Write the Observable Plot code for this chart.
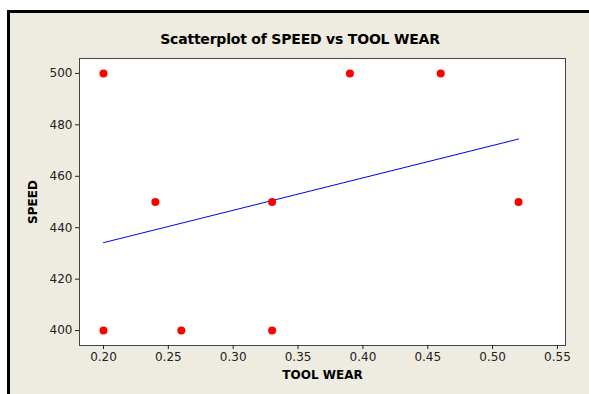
<!DOCTYPE html>
<html>
<head>
<meta charset="utf-8">
<script src="https://cdn.jsdelivr.net/npm/d3@7"></script>
<script src="https://cdn.jsdelivr.net/npm/@observablehq/plot@0.6"></script>
<style>
  html, body { margin: 0; padding: 0; background: #ffffff; }
  #wrap { position: relative; width: 589px; height: 394px; overflow: hidden; }
  #panel { position: absolute; left: 7px; top: 10px; right: -10px; bottom: -10px;
           background: #EEEBE0; border-left: 3px solid #000; border-top: 3px solid #000; }
  #title { position: absolute; left: 0; width: 600px; top: 31px; text-align: center;
           font: bold 14px "DejaVu Sans", sans-serif; color: #000; letter-spacing: -0.2px; }
  #chart { position: absolute; left: 0; top: 0; }
</style>
</head>
<body>
<div id="wrap">
  <div id="panel"></div>
  <div id="title">Scatterplot of SPEED vs TOOL WEAR</div>
  <div id="chart"></div>
</div>
<script>
const toolWear = [0.20, 0.20, 0.24, 0.26, 0.33, 0.33, 0.39, 0.46, 0.52];
const speed    = [500, 400, 450, 400, 450, 400, 500, 500, 450];
const xTicks = [0.20, 0.25, 0.30, 0.35, 0.40, 0.45, 0.50, 0.55];
const yTicks = [400, 420, 440, 460, 480, 500];

const data = toolWear.map((x, i) => ({x, y: speed[i]}));

const chart = Plot.plot({
  width: 589,
  height: 394,
  marginLeft: 79,
  marginRight: 24,
  marginTop: 58,
  marginBottom: 49,
  style: {background: "transparent", fontFamily: "DejaVu Sans, sans-serif", fontSize: "12px", color: "#222"},
  x: {domain: [0.1815, 0.5562], ticks: xTicks, tickFormat: d3.format(".2f"), label: "TOOL WEAR",
      labelAnchor: "center", labelArrow: "none"},
  y: {domain: [394.2, 505.8], ticks: yTicks, label: "SPEED", labelAnchor: "center", labelArrow: "none"},
  marks: [
    Plot.frame({fill: "white", stroke: "#444"}),
    Plot.axisX({ticks: xTicks, tickFormat: d3.format(".2f"), tickSize: 4, tickPadding: 3, label: null}),
    Plot.axisY({ticks: yTicks, tickSize: 4, tickPadding: 3, label: null}),
    Plot.text(["TOOL WEAR"], {frameAnchor: "bottom", dy: 33, fontWeight: "bold", fontSize: 12, fill: "#000"}),
    Plot.text(["SPEED"], {frameAnchor: "left", dx: -46, rotate: -90, textAnchor: "middle", fontWeight: "bold", fontSize: 12, fill: "#000"}),
    Plot.linearRegressionY(data, {x: "x", y: "y", ci: 0, stroke: "#0000ff", strokeWidth: 1}),
    Plot.dot(data, {x: "x", y: "y", r: 4, fill: "#ff0000", stroke: "none"})
  ]
});
document.getElementById("chart").appendChild(chart);
</script>
</body>
</html>
